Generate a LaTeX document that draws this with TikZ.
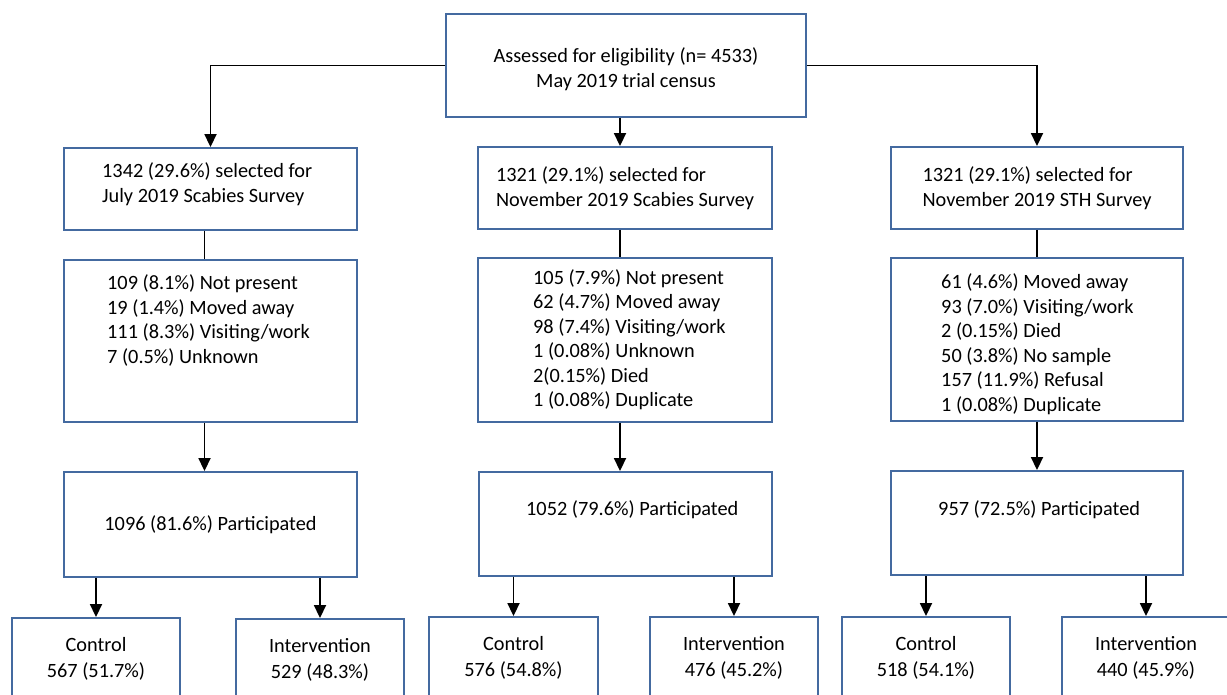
\documentclass[tikz,border=0pt]{standalone}
\usepackage{fontspec}
\setmainfont{Carlito}
\usetikzlibrary{arrows.meta}
\definecolor{boxblue}{RGB}{68,106,160}

\begin{document}
\begin{tikzpicture}[x=1pt, y=-1pt,
    box/.style={draw=boxblue, line width=1.9pt, rectangle, inner sep=0pt,
      font=\fontsize{20.3}{24.5}\selectfont},
    txt/.style={inner sep=0pt, align=left, font=\fontsize{20.3}{24.5}\selectfont},
    arr/.style={-{Triangle[length=13pt,width=12pt]}, line width=1.8pt},
    link/.style={line width=1.8pt}]
    \useasboundingbox (0,0) rectangle (1227,694);
    \clip (0,0) rectangle (1227,694);

    % census
    \node[box, minimum width=360pt, minimum height=103pt] (census) at (626,65.5) {};
    \node[txt, align=center] (censustxt) at (626,69)
        {Assessed for eligibility (n= 4533)\\May 2019 trial census};

    % selected for the three surveys
    \node[box, minimum width=293pt, minimum height=82pt] (sel1) at (210.5,189) {};
    \node[box, align=left, minimum width=294pt, minimum height=82pt] (sel2) at (625,188)
        {1321 (29.1\%) selected for\\November 2019 Scabies Survey};
    \node[box, align=left, minimum width=292pt, minimum height=82pt] (sel3) at (1037,188)
        {1321 (29.1\%) selected for\\November 2019 STH Survey};
    \node[txt, anchor=west] (sel1txt) at (102,184)
        {1342 (29.6\%) selected for\\July 2019 Scabies Survey};

    % not seen
    \node[box, minimum width=293pt, minimum height=162pt] (rsn1) at (210.5,341) {};
    \node[box, minimum width=294pt, minimum height=164pt] (rsn2) at (625,340) {};
    \node[box, minimum width=292pt, minimum height=163pt] (rsn3) at (1037,339.5) {};
    \node[txt, anchor=west] (rsn1txt) at (107,320.5)
        {109 (8.1\%) Not present\\19 (1.4\%) Moved away\\111 (8.3\%) Visiting/work\\7 (0.5\%) Unknown};
    \node[txt, anchor=west] (rsn2txt) at (533,339.5)
        {105 (7.9\%) Not present\\62 (4.7\%) Moved away\\98 (7.4\%) Visiting/work\\1 (0.08\%) Unknown\\2(0.15\%) Died\\1 (0.08\%) Duplicate};
    \node[txt, anchor=west] (rsn3txt) at (941,344)
        {61 (4.6\%) Moved away\\93 (7.0\%) Visiting/work\\2 (0.15\%) Died\\50 (3.8\%) No sample\\157 (11.9\%) Refusal\\1 (0.08\%) Duplicate};

    % participated
    \node[box, minimum width=293pt, minimum height=105pt] (part1) at (210.5,524.5)
        {1096 (81.6\%) Participated};
    \node[box, minimum width=293pt, minimum height=104pt] (part2) at (625.5,524) {};
    \node[box, minimum width=292pt, minimum height=104pt] (part3) at (1037,523) {};
    \node[txt, anchor=west] (part2txt) at (526,510) {1052 (79.6\%) Participated};
    \node[txt, anchor=west] (part3txt) at (938,510) {957 (72.5\%) Participated};

    % arms
    \node[box, align=center, minimum width=168pt, minimum height=82pt] (ctl1) at (96,659)
        {Control\\[2pt]567 (51.7\%)};
    \node[box, align=center, minimum width=168pt, minimum height=82pt] (int1) at (320,660)
        {Intervention\\[2pt]529 (48.3\%)};
    \node[box, align=center, minimum width=169pt, minimum height=82pt] (ctl2) at (513.5,658)
        {Control\\[2pt]576 (54.8\%)};
    \node[box, align=center, minimum width=168pt, minimum height=82pt] (int2) at (734,658)
        {Intervention\\[2pt]476 (45.2\%)};
    \node[box, align=center, minimum width=168pt, minimum height=82pt] (ctl3) at (926,658)
        {Control\\[2pt]518 (54.1\%)};
    \node[box, align=center, minimum width=168pt, minimum height=82pt] (int3) at (1146,658)
        {Intervention\\[2pt]440 (45.9\%)};

    \draw[arr] (census.west) -| (sel1.north);
    \draw[arr] (census.east) -| (sel3.north);
    \draw[arr] ([xshift=-6pt]census.south) -- ([xshift=-6pt]census.south |- sel2.north);

    \draw[link] ([xshift=-6pt]sel1.south) -- ([xshift=-6pt]rsn1.north);
    \draw[link] ([xshift=-5pt]sel2.south) -- ([xshift=-5pt]rsn2.north);
    \draw[link] (sel3.south) -- (rsn3.north);

    \draw[arr] ([xshift=-6pt]rsn1.south) -- ([xshift=-6pt]rsn1.south |- part1.north);
    \draw[arr] ([xshift=-5pt]rsn2.south) -- ([xshift=-5pt]rsn2.south |- part2.north);
    \draw[arr] (rsn3.south) -- (rsn3.south |- part3.north);

    \draw[arr] (part1.south -| ctl1.north) -- (ctl1.north);
    \draw[arr] (part1.south -| int1.north) -- (int1.north);
    \draw[arr] (part2.south -| ctl2.north) -- (ctl2.north);
    \draw[arr] (part2.south -| int2.north) -- (int2.north);
    \draw[arr] (part3.south -| ctl3.north) -- (ctl3.north);
    \draw[arr] (part3.south -| int3.north) -- (int3.north);
\end{tikzpicture}
\end{document}
